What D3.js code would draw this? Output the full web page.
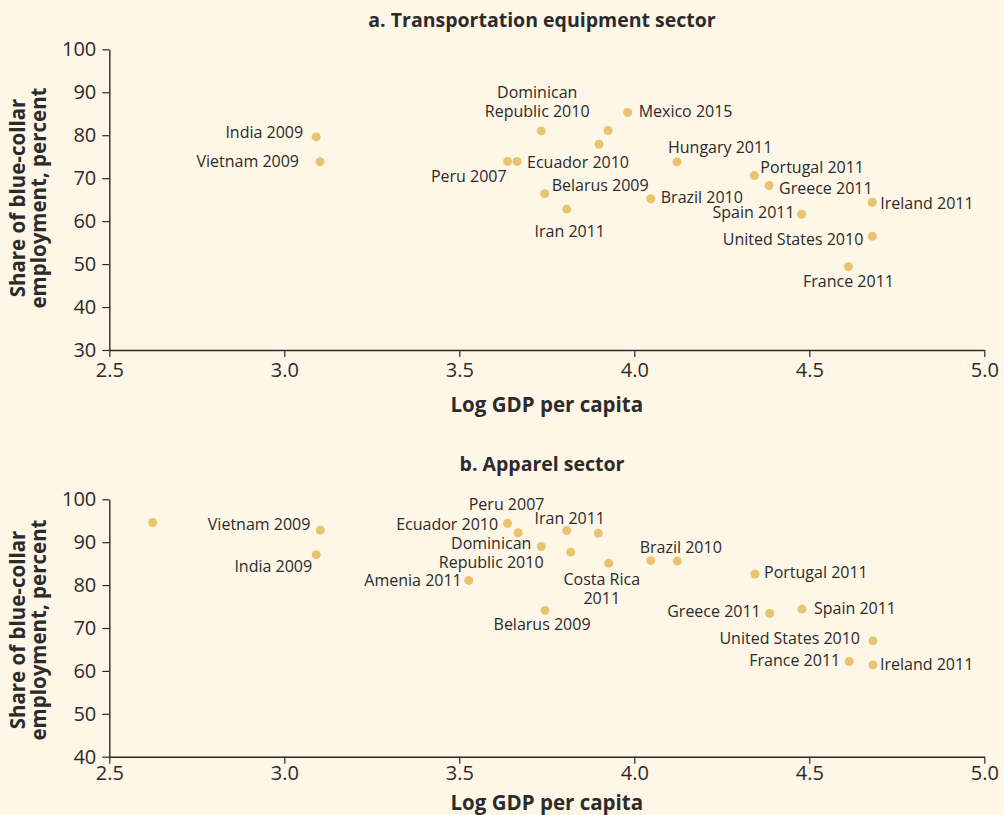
<!DOCTYPE html>
<html>
<head>
<meta charset="utf-8">
<script src="https://cdn.jsdelivr.net/npm/d3@7"></script>
<style>
  html, body { margin: 0; padding: 0; background: #fef6e6; }
  svg { display: block; }
  text { font-family: "Open Sans", "Liberation Sans", Arial, sans-serif; fill: #2b2b2b; }
</style>
</head>
<body>
<svg id="chart" width="1004" height="815"></svg>
<script>
// ---------- Data ----------
const xTicks = [2.5, 3.0, 3.5, 4.0, 4.5, 5.0];
const yTicksA = [30, 40, 50, 60, 70, 80, 90, 100];
const yTicksB = [40, 50, 60, 70, 80, 90, 100];

// Panel a: Transportation equipment sector
const labelsA = ["India 2009", "Vietnam 2009", "Dominican\nRepublic 2010", "", "Mexico 2015", "",
  "Peru 2007", "Ecuador 2010", "Hungary 2011", "Belarus 2009", "Iran 2011", "Brazil 2010",
  "Portugal 2011", "Greece 2011", "Spain 2011", "Ireland 2011", "United States 2010", "France 2011"];
const gdpA = [3.091, 3.102, 3.734, 3.925, 3.981, 3.899, 3.638, 3.665, 4.122, 3.744, 3.807, 4.047,
  4.343, 4.385, 4.478, 4.680, 4.680, 4.612];
const shareA = [79.6, 73.8, 81.0, 81.1, 85.3, 77.9, 73.9, 73.9, 73.8, 66.4, 62.8, 65.2,
  70.6, 68.3, 61.6, 64.4, 56.5, 49.4];

// Panel b: Apparel sector
const labelsB = ["", "Vietnam 2009", "India 2009", "Amenia 2011", "Peru 2007", "Ecuador 2010",
  "Dominican\nRepublic 2010", "Iran 2011", "", "", "Costa Rica\n2011", "Brazil 2010", "",
  "Portugal 2011", "Belarus 2009", "Greece 2011", "Spain 2011", "United States 2010",
  "France 2011", "Ireland 2011"];
const gdpB = [2.624, 3.103, 3.091, 3.527, 3.638, 3.668, 3.734, 3.807, 3.897, 3.818, 3.927, 4.047,
  4.123, 4.345, 3.745, 4.387, 4.479, 4.682, 4.614, 4.682];
const shareB = [94.6, 92.8, 87.1, 81.1, 94.4, 92.2, 89.0, 92.7, 92.1, 87.7, 85.1, 85.7,
  85.6, 82.6, 74.1, 73.4, 74.4, 67.0, 62.2, 61.4];

// ---------- Label placement (layout, not data) ----------
const placeA = {
  "India 2009": ["end", -13, 1],
  "Vietnam 2009": ["end", -21, 5],
  "Dominican\nRepublic 2010": ["middle", -4, -33],
  "Mexico 2015": ["start", 11, 5],
  "Hungary 2011": ["start", -9, -9],
  "Peru 2007": ["end", -1, 21],
  "Ecuador 2010": ["start", 10, 7],
  "Belarus 2009": ["start", 7, -3],
  "Iran 2011": ["middle", 3, 28],
  "Brazil 2010": ["start", 10, 4],
  "Portugal 2011": ["start", 6, -3],
  "Greece 2011": ["start", 10, 9],
  "Spain 2011": ["end", -7, 4],
  "Ireland 2011": ["start", 8, 7],
  "United States 2010": ["end", -9, 9],
  "France 2011": ["middle", 0, 20]
};
const placeB = {
  "Vietnam 2009": ["end", -10, 0],
  "India 2009": ["end", -4, 17],
  "Amenia 2011": ["end", -7, 6],
  "Peru 2007": ["middle", -1, -13],
  "Ecuador 2010": ["end", -20, -3],
  "Dominican\nRepublic 2010": ["middle", -50, 3],
  "Iran 2011": ["middle", 3, -7],
  "Costa Rica\n2011": ["middle", -7, 22],
  "Brazil 2010": ["middle", 30, -8],
  "Portugal 2011": ["start", 9, 4],
  "Belarus 2009": ["middle", -3, 20],
  "Greece 2011": ["end", -9, 4],
  "Spain 2011": ["start", 12, 5],
  "United States 2010": ["end", -13, 3],
  "France 2011": ["end", -9, 5],
  "Ireland 2011": ["start", 7, 5]
};

// ---------- Drawing ----------
const svg = d3.select("#chart");
const ink = "#2b2b2b";
const dotColor = "#e8c46f";

function panel(cfg) {
  const x = d3.scaleLinear().domain([2.5, 5.0]).range([109.3, 984.3]);
  const y = d3.scaleLinear().domain(cfg.yDomain).range([cfg.bottom, cfg.top]);
  const g = svg.append("g");

  // title
  g.append("text").attr("x", 542).attr("y", cfg.titleY)
    .attr("text-anchor", "middle").style("font-weight", 700).style("font-size", "19.5px")
    .text(cfg.title);

  // y axis
  const ya = g.append("g").attr("transform", `translate(${x(2.5)},0)`)
    .call(d3.axisLeft(y).tickValues(cfg.yTicks).tickSize(7).tickSizeOuter(0).tickPadding(6).tickFormat(d3.format("d")));
  // x axis
  const xa = g.append("g").attr("transform", `translate(0,${cfg.bottom})`)
    .call(d3.axisBottom(x).tickValues(xTicks).tickSize(7).tickSizeOuter(0).tickPadding(cfg.xPad).tickFormat(d3.format(".1f")));
  [ya, xa].forEach(a => {
    a.select(".domain").attr("stroke", ink).attr("stroke-width", 1.4);
    a.selectAll(".tick line").attr("stroke", ink).attr("stroke-width", 1.2);
    a.selectAll(".tick text").attr("fill", ink).style("font-size", "20px")
      .style("font-family", "'Open Sans', 'Liberation Sans', Arial, sans-serif");
  });

  // axis titles
  g.append("text").attr("x", 546.8).attr("y", cfg.xLabelY).attr("text-anchor", "middle")
    .style("font-weight", 700).style("font-size", "20.5px").text("Log GDP per capita");
  const yl = g.append("text").attr("transform", `translate(0,${cfg.yLabelC}) rotate(-90)`)
    .attr("text-anchor", "middle").style("font-weight", 700).style("font-size", "20.5px");
  yl.append("tspan").attr("x", 0).attr("y", 25).text("Share of blue-collar");
  yl.append("tspan").attr("x", 0).attr("y", 46).text("employment, percent");

  const pts = cfg.labels.map((l, i) => ({label: l, gx: cfg.gdp[i], sh: cfg.share[i]}));

  g.selectAll("circle").data(pts).join("circle")
    .attr("cx", d => x(d.gx)).attr("cy", d => y(d.sh)).attr("r", 4.5).attr("fill", dotColor);

  const lab = g.selectAll("text.lab").data(pts.filter(d => d.label && cfg.place[d.label])).join("text")
    .attr("class", "lab").style("font-size", "16px")
    .attr("text-anchor", d => cfg.place[d.label][0]);
  lab.each(function(d) {
    const p = cfg.place[d.label];
    const lines = d.label.split("\n");
    const t = d3.select(this);
    lines.forEach((ln, k) => {
      t.append("tspan").attr("x", x(d.gx) + p[1]).attr("y", y(d.sh) + p[2] + k * 19).text(ln);
    });
  });
}

panel({title: "a. Transportation equipment sector", titleY: 26.5, yDomain: [30, 100], top: 49.3, bottom: 350,
  yTicks: yTicksA, xPad: 6, xLabelY: 411.5, yLabelC: 198, labels: labelsA, gdp: gdpA, share: shareA, place: placeA});
panel({title: "b. Apparel sector", titleY: 470.5, yDomain: [40, 100], top: 499.3, bottom: 756.7,
  yTicks: yTicksB, xPad: 2.5, xLabelY: 810, yLabelC: 630, labels: labelsB, gdp: gdpB, share: shareB, place: placeB});
</script>
</body>
</html>
